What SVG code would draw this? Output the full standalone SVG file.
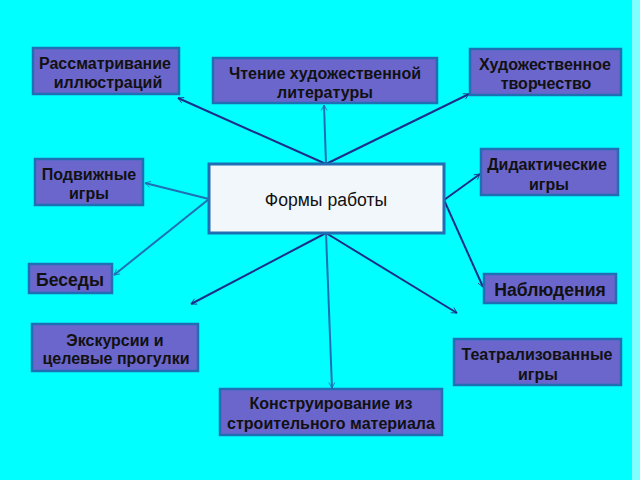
<svg xmlns="http://www.w3.org/2000/svg" width="640" height="480" viewBox="0 0 640 480">
<style>
.bg{fill:#00FFFF}
.box{fill:#6B66CC;stroke:#1F6FB5;stroke-width:2.5}
.center{fill:#F2F7FB;stroke:#1F6FB5;stroke-width:3}
.t{font-family:"Liberation Sans",Arial,sans-serif;font-weight:bold;font-size:16px;fill:#111;text-anchor:middle}
.tb{font-size:17.6px}
.tc{font-family:"Liberation Sans",Arial,sans-serif;font-size:17.6px;fill:#111;text-anchor:middle}
.c1{stroke:#1B2F8A;stroke-width:2;fill:none;marker-end:url(#ad)}
.c2{stroke:#1F6FB5;stroke-width:2;fill:none;marker-end:url(#al)}
</style>
<defs>
<marker id="ad" viewBox="0 0 12 12" refX="11" refY="6" markerWidth="6" markerHeight="6" markerUnits="userSpaceOnUse" orient="auto" overflow="visible"><path d="M0,0 L11,6 L0,12" fill="none" stroke="#1B2F8A" stroke-width="1.6"/></marker>
<marker id="al" viewBox="0 0 12 12" refX="11" refY="6" markerWidth="6" markerHeight="6" markerUnits="userSpaceOnUse" orient="auto" overflow="visible"><path d="M0,0 L11,6 L0,12" fill="none" stroke="#1F6FB5" stroke-width="1.6"/></marker>
</defs>
<rect class="bg" x="0" y="0" width="640" height="480"/>
<rect x="632" y="0" width="8" height="480" fill="#7FFFFF"/>
<g id="connectors">
<line class="c1" x1="326" y1="164" x2="178" y2="98"/>
<line class="c2" x1="326" y1="164" x2="324" y2="105"/>
<line class="c1" x1="326" y1="164" x2="469" y2="94"/>
<line class="c2" x1="209" y1="199" x2="145" y2="183"/>
<line class="c2" x1="209" y1="199" x2="114" y2="275"/>
<line class="c1" x1="326" y1="233" x2="191" y2="304"/>
<line class="c2" x1="326" y1="233" x2="332" y2="388"/>
<line class="c1" x1="326" y1="233" x2="457" y2="313"/>
<line class="c1" x1="444" y1="200" x2="480" y2="174"/>
<line class="c1" x1="444" y1="200" x2="483" y2="287"/>
</g>
<g id="n-center"><rect class="center" x="209" y="164" width="235" height="69"/><text class="tc" x="326" y="206">Формы работы</text></g>
<g id="n1"><rect class="box" x="33" y="48" width="146" height="46"/><text class="t" x="105" y="69">Рассматривание</text><text class="t" x="108" y="88">иллюстраций</text></g>
<g id="n2"><rect class="box" x="213" y="58" width="224" height="45"/><text class="t" x="325" y="79">Чтение художественной</text><text class="t" x="325" y="98">литературы</text></g>
<g id="n3"><rect class="box" x="470" y="49" width="151" height="46"/><text class="t" x="545" y="70">Художественное</text><text class="t" x="546" y="89">творчество</text></g>
<g id="n4"><rect class="box" x="35" y="159" width="108" height="46"/><text class="t" x="89" y="180">Подвижные</text><text class="t" x="89" y="199">игры</text></g>
<g id="n5"><rect class="box" x="481" y="149" width="137" height="46"/><text class="t" x="547" y="170">Дидактические</text><text class="t" x="549" y="190">игры</text></g>
<g id="n6"><rect class="box" x="29" y="264" width="83" height="29"/><text class="t tb" x="70" y="286">Беседы</text></g>
<g id="n7"><rect class="box" x="32" y="324" width="166" height="47"/><text class="t" x="115" y="346">Экскурсии и</text><text class="t" x="116" y="364">целевые прогулки</text></g>
<g id="n8"><rect class="box" x="220" y="389" width="222" height="46"/><text class="t" x="331" y="409">Конструирование из</text><text class="t" x="331" y="429">строительного материала</text></g>
<g id="n9"><rect class="box" x="484" y="274" width="132" height="29"/><text class="t tb" x="550" y="296">Наблюдения</text></g>
<g id="n10"><rect class="box" x="454" y="339" width="167" height="46"/><text class="t" x="537" y="360">Театрализованные</text><text class="t" x="538" y="380">игры</text></g>
</svg>
